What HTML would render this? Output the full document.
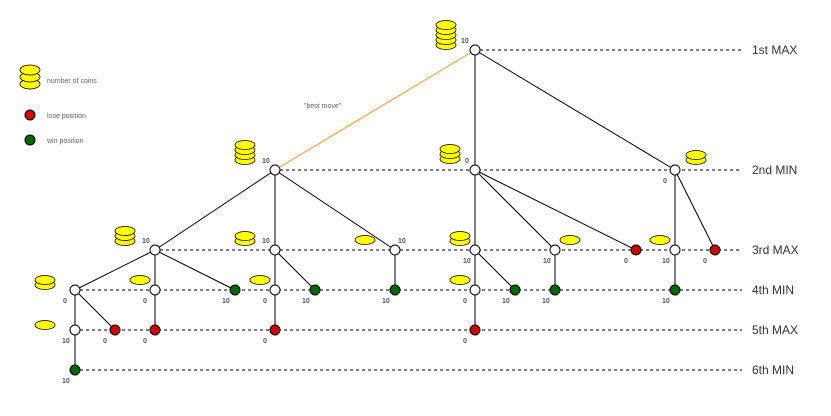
<!DOCTYPE html>
<html><head><style>body{margin:0;background:#fff}</style></head><body>
<svg width="831" height="411" xmlns="http://www.w3.org/2000/svg" font-family="Liberation Sans, sans-serif">
<g stroke="#000" stroke-dasharray="3,3" stroke-width="1">
<line x1="480" y1="50" x2="742" y2="50"/>
<line x1="280" y1="170" x2="742" y2="170"/>
<line x1="160" y1="250" x2="742" y2="250"/>
<line x1="80" y1="290" x2="742" y2="290"/>
<line x1="80" y1="330" x2="742" y2="330"/>
<line x1="80" y1="370" x2="742" y2="370"/>
</g>
<g fill="#333" font-size="12">
<text x="752" y="54">1st MAX</text><text x="752" y="174">2nd MIN</text><text x="752" y="254">3rd MAX</text>
<text x="752" y="294">4th MIN</text><text x="752" y="334">5th MAX</text><text x="752" y="374">6th MIN</text>
</g>
<line x1="475" y1="50" x2="275" y2="170" stroke="#f7931e" stroke-width="1"/>
<g stroke="#000" stroke-width="1" fill="none">
<line x1="475" y1="50" x2="475" y2="170"/><line x1="475" y1="50" x2="675" y2="170"/>
<line x1="275" y1="170" x2="155" y2="250"/><line x1="275" y1="170" x2="275" y2="250"/><line x1="275" y1="170" x2="395" y2="250"/>
<line x1="475" y1="170" x2="475" y2="250"/><line x1="475" y1="170" x2="555" y2="250"/><line x1="475" y1="170" x2="636" y2="250"/>
<line x1="675" y1="170" x2="675" y2="250"/><line x1="675" y1="170" x2="715" y2="250"/>
<line x1="155" y1="250" x2="75" y2="290"/><line x1="155" y1="250" x2="155" y2="290"/><line x1="155" y1="250" x2="235" y2="290"/>
<line x1="275" y1="250" x2="275" y2="290"/><line x1="275" y1="250" x2="315" y2="290"/>
<line x1="395" y1="250" x2="395" y2="290"/>
<line x1="475" y1="250" x2="475" y2="290"/><line x1="475" y1="250" x2="515" y2="290"/>
<line x1="555" y1="250" x2="555" y2="290"/><line x1="675" y1="250" x2="675" y2="290"/>
<line x1="75" y1="290" x2="75" y2="330"/><line x1="75" y1="290" x2="115" y2="330"/>
<line x1="155" y1="290" x2="155" y2="330"/><line x1="275" y1="290" x2="275" y2="330"/><line x1="475" y1="290" x2="475" y2="330"/>
<line x1="75" y1="330" x2="75" y2="370"/>
</g>
<g stroke="#000" stroke-width="1">
<g fill="#fff">
<circle cx="475" cy="50" r="5"/><circle cx="275" cy="170" r="5"/><circle cx="475" cy="170" r="5"/><circle cx="675" cy="170" r="5"/>
<circle cx="155" cy="250" r="5"/><circle cx="275" cy="250" r="5"/><circle cx="395" cy="250" r="5"/><circle cx="475" cy="250" r="5"/><circle cx="555" cy="250" r="5"/><circle cx="675" cy="250" r="5"/>
<circle cx="75" cy="290" r="5"/><circle cx="155" cy="290" r="5"/><circle cx="275" cy="290" r="5"/><circle cx="475" cy="290" r="5"/>
<circle cx="75" cy="330" r="5"/>
</g>
<g fill="#c00">
<circle cx="636" cy="250" r="5"/><circle cx="715" cy="250" r="5"/><circle cx="115" cy="330" r="5"/><circle cx="155" cy="330" r="5"/><circle cx="275" cy="330" r="5"/><circle cx="475" cy="330" r="5"/><circle cx="30" cy="115" r="5"/>
</g>
<g fill="#060">
<circle cx="235" cy="290" r="5"/><circle cx="315" cy="290" r="5"/><circle cx="395" cy="290" r="5"/><circle cx="515" cy="290" r="5"/><circle cx="555" cy="290" r="5"/><circle cx="675" cy="290" r="5"/><circle cx="75" cy="370" r="5"/><circle cx="30" cy="140" r="5"/>
</g>
<g fill="#ff0" stroke-width="0.8">
<ellipse cx="446" cy="45" rx="10" ry="4.5"/><ellipse cx="446" cy="40" rx="10" ry="4.5"/><ellipse cx="446" cy="35" rx="10" ry="4.5"/><ellipse cx="446" cy="30" rx="10" ry="4.5"/><ellipse cx="446" cy="25" rx="10" ry="4.5"/>
<ellipse cx="30" cy="84" rx="10" ry="5"/><ellipse cx="30" cy="77" rx="10" ry="5"/><ellipse cx="30" cy="70" rx="10" ry="5"/>
<ellipse cx="245" cy="160" rx="10" ry="4.5"/><ellipse cx="245" cy="155" rx="10" ry="4.5"/><ellipse cx="245" cy="150" rx="10" ry="4.5"/><ellipse cx="245" cy="145" rx="10" ry="4.5"/>
<ellipse cx="450" cy="159" rx="10" ry="4.5"/><ellipse cx="450" cy="154" rx="10" ry="4.5"/><ellipse cx="450" cy="149" rx="10" ry="4.5"/>
<ellipse cx="696" cy="160" rx="10" ry="4.5"/><ellipse cx="696" cy="155" rx="10" ry="4.5"/>
<ellipse cx="125" cy="241" rx="10" ry="4.5"/><ellipse cx="125" cy="236" rx="10" ry="4.5"/><ellipse cx="125" cy="231" rx="10" ry="4.5"/>
<ellipse cx="245" cy="241" rx="10" ry="4.5"/><ellipse cx="245" cy="236" rx="10" ry="4.5"/>
<ellipse cx="365" cy="240" rx="10" ry="4.5"/>
<ellipse cx="460" cy="241" rx="10" ry="4.5"/><ellipse cx="460" cy="236" rx="10" ry="4.5"/>
<ellipse cx="570" cy="240" rx="10" ry="4.5"/>
<ellipse cx="660" cy="240" rx="10" ry="4.5"/>
<ellipse cx="45" cy="285" rx="10" ry="4.5"/><ellipse cx="45" cy="280" rx="10" ry="4.5"/>
<ellipse cx="140" cy="280" rx="10" ry="4.5"/>
<ellipse cx="260" cy="280" rx="10" ry="4.5"/>
<ellipse cx="460" cy="280" rx="10" ry="4.5"/>
<ellipse cx="45" cy="325" rx="10" ry="4.5"/>
</g>
</g>
<g fill="#555" font-size="7" font-weight="bold">
<text x="461" y="43">10</text>
<text x="262" y="163">10</text><text x="465" y="163">0</text><text x="663" y="183">0</text>
<text x="142" y="243">10</text><text x="262" y="243">10</text><text x="398" y="243">10</text>
<text x="463" y="263">10</text><text x="543" y="263">10</text><text x="624" y="263">0</text><text x="662" y="263">10</text><text x="703" y="263">0</text>
<text x="63" y="303">0</text><text x="143" y="303">0</text><text x="222" y="303">10</text><text x="263" y="303">0</text><text x="302" y="303">10</text><text x="382" y="303">10</text>
<text x="463" y="303">0</text><text x="502" y="303">10</text><text x="542" y="303">10</text><text x="662" y="303">10</text>
<text x="62" y="343">10</text><text x="103" y="343">0</text><text x="143" y="343">0</text><text x="263" y="343">0</text><text x="463" y="343">0</text>
<text x="62" y="383">10</text>
</g>
<g fill="#666" font-size="7">
<text x="47" y="83">number of coins</text>
<text x="47" y="118">lose position</text>
<text x="47" y="143">win position</text>
<text x="304" y="108">"best move"</text>
</g>
</svg>
</body></html>
